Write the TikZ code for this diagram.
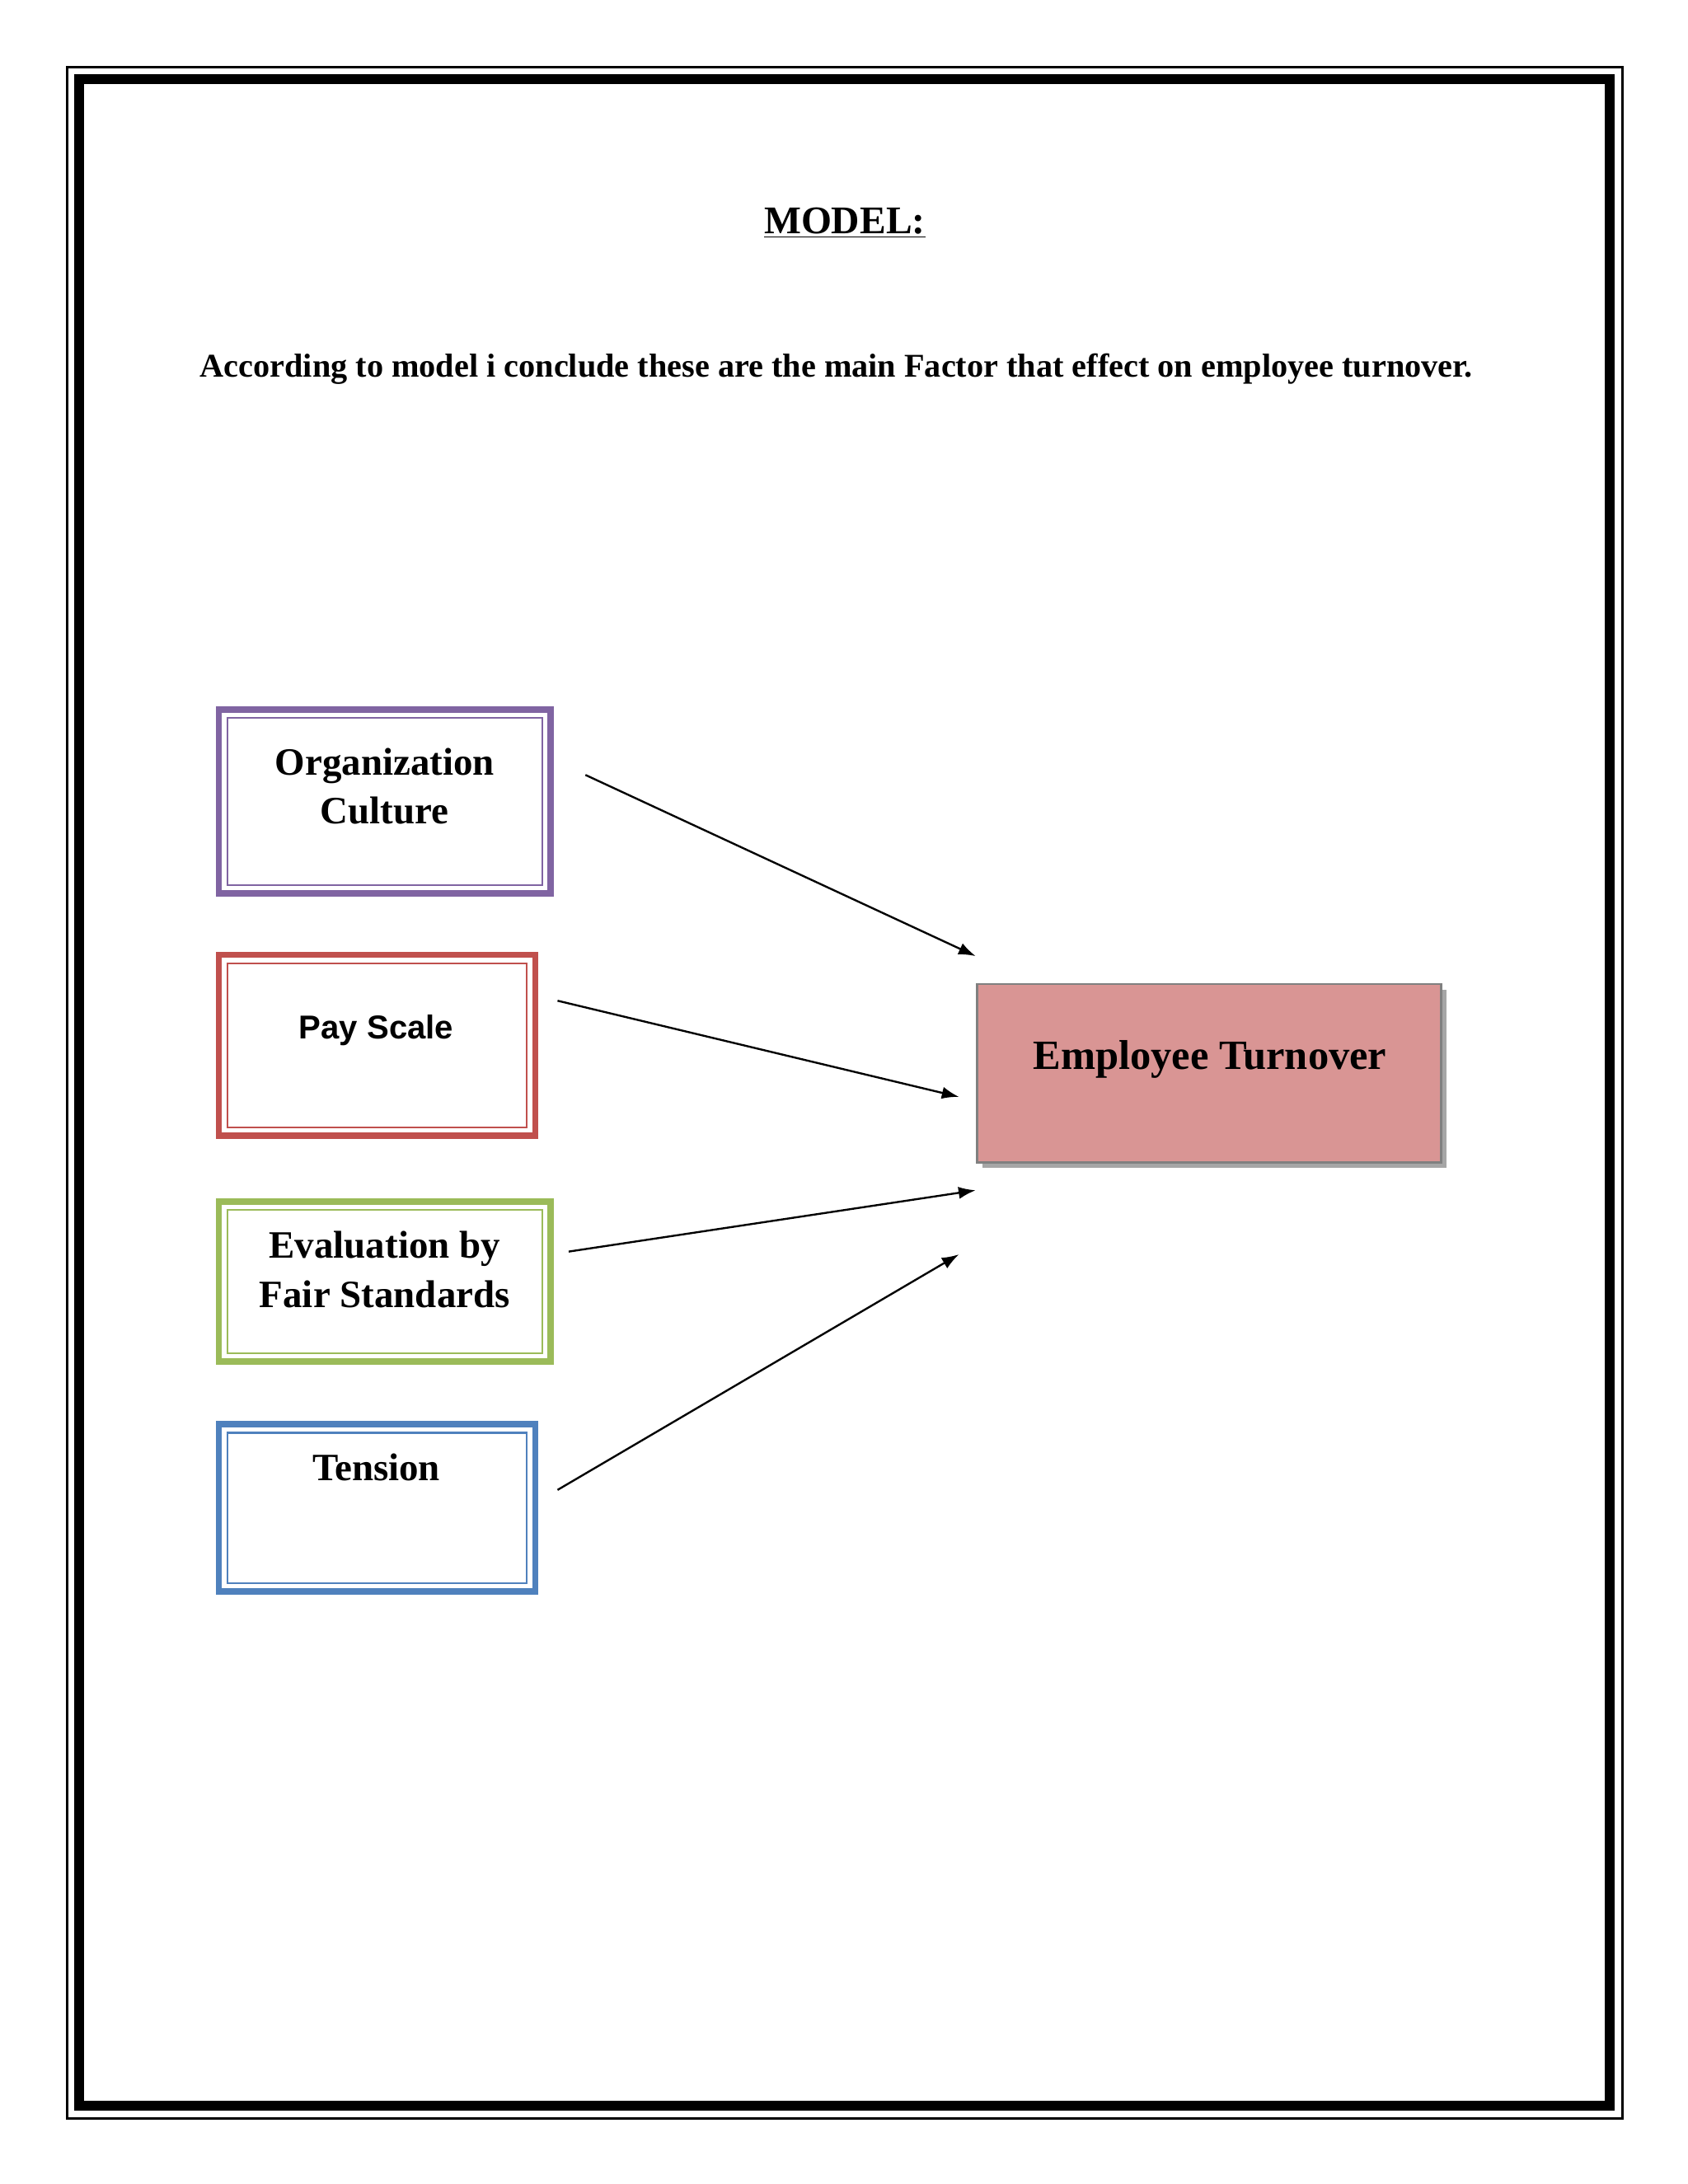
\documentclass[tikz,border=0pt]{standalone}
\usepackage{fontspec}
\setmainfont{Liberation Serif}
\newfontfamily\arialf{Liberation Sans}
\usetikzlibrary{arrows.meta,shadows}
\definecolor{cpurple}{HTML}{8064A2}
\definecolor{cred}{HTML}{C0504D}
\definecolor{cgreen}{HTML}{9BBB59}
\definecolor{cblue}{HTML}{4F81BD}
\definecolor{cpink}{HTML}{D99594}
\tikzset{
 lbl/.style={font=\bfseries\fontsize{15.8}{20}\selectfont,align=center},
 arr/.style={-{Latex[length=7pt,width=5pt]},line width=0.8pt}
}
\begin{document}
\begin{tikzpicture}[x=0.02cm,y=-0.02cm]
\useasboundingbox (0,0) rectangle (1211,1567);
\draw[line width=1pt] (48,48) rectangle (1164,1520);
\draw[line width=4pt] (57,57) rectangle (1155,1511);
\node[font=\bfseries\fontsize{16}{19}\selectfont] (title) at (606,160) {\underline{MODEL:}};
\node[font=\bfseries\fontsize{13.55}{16}\selectfont] (sub) at (600,265) {According to model i conclude these are the main Factor that effect on employee turnover.};
% boxes
\draw[draw=cpurple,line width=2.6pt] (157,509) rectangle (395,641);
\draw[draw=cpurple,line width=0.7pt] (163,515) rectangle (389,635);
\node[lbl] (oc) at (276,564) {Organization\\Culture};
\draw[draw=cred,line width=2.6pt] (157,685) rectangle (384,815);
\draw[draw=cred,line width=0.7pt] (163,691) rectangle (378,809);
\node[font=\arialf\bfseries\fontsize{13.5}{16}\selectfont] (ps) at (270,739) {Pay Scale};
\draw[draw=cgreen,line width=2.6pt] (157,862) rectangle (395,977);
\draw[draw=cgreen,line width=0.7pt] (163,868) rectangle (389,971);
\node[lbl] (ev) at (276,911) {Evaluation by\\Fair Standards};
\draw[draw=cblue,line width=2.6pt] (157,1022) rectangle (384,1142);
\draw[draw=cblue,line width=0.7pt] (163,1028) rectangle (378,1136);
\node[lbl] (te) at (270,1053) {Tension};
% target
\fill[gray!70] (705,710) rectangle (1038,838);
\draw[fill=cpink,draw=gray,line width=0.8pt] (701,706) rectangle (1034,834);
\node[font=\bfseries\fontsize{17}{21}\selectfont] (et) at (868,760) {Employee Turnover};
% arrows
\coordinate (a1) at (420,556); \coordinate (b1) at (700,686);
\coordinate (a2) at (400,718); \coordinate (b2) at (688,787);
\coordinate (a3) at (408,898); \coordinate (b3) at (700,854);
\coordinate (a4) at (400,1069); \coordinate (b4) at (688,900);
\draw[arr] (a1) -- (b1);
\draw[arr] (a2) -- (b2);
\draw[arr] (a3) -- (b3);
\draw[arr] (a4) -- (b4);
\end{tikzpicture}
\end{document}
